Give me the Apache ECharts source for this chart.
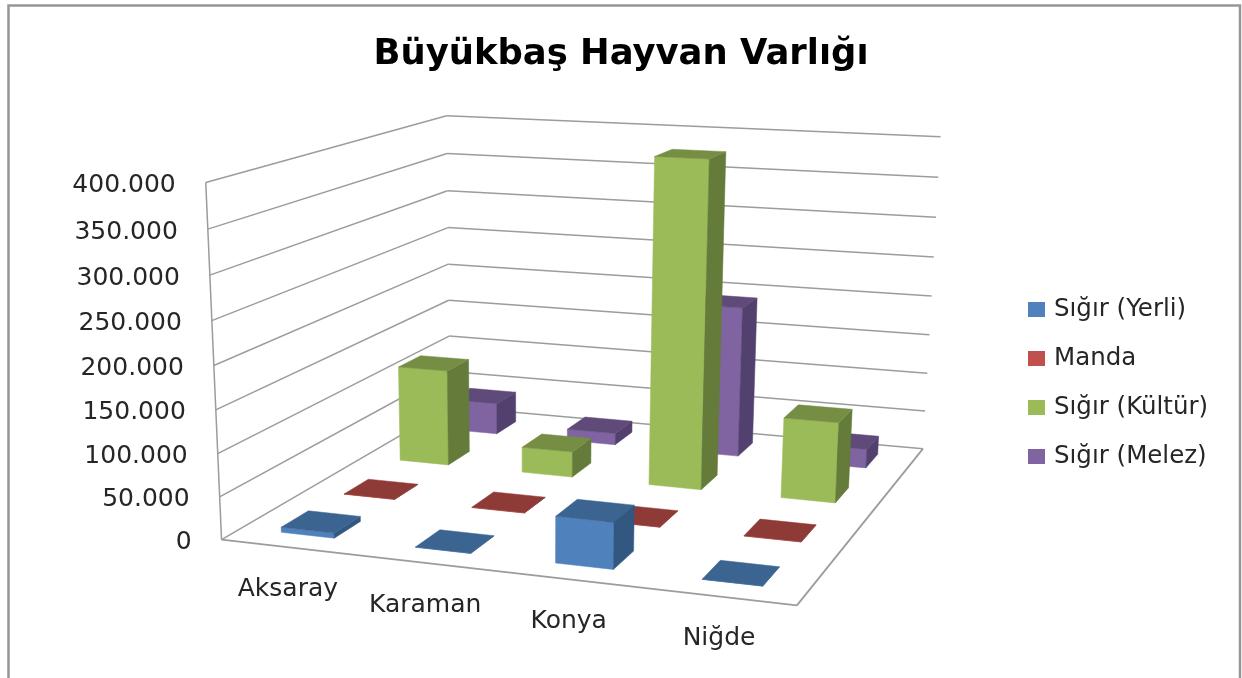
<!DOCTYPE html>
<html><head><meta charset="utf-8">
<style>html,body{margin:0;padding:0;background:#fff}#c{width:1242px;height:678px}</style>
<script src="https://cdn.jsdelivr.net/npm/echarts@6/dist/echarts.min.js"></script></head>
<body><div id="c"></div>
<script>
const categories = ['Aksaray','Karaman','Konya','Niğde'];
const yerli  = [6000, 300, 53000, 300];
const manda  = [300, 300, 300, 300];
const kultur = [121000, 32000, 398000, 98000];
const melez  = [41000, 15000, 192000, 24000];
const seriesNames = ['Sığır (Yerli)','Manda','Sığır (Kültür)','Sığır (Melez)'];
const valueTicks = [0,50000,100000,150000,200000,250000,300000,350000,400000];

const FONT = 'DejaVu Sans';
const GRID = {left:222, top:184, width:575, height:356};
const faces = [
  {front:'#4F81BD', top:'#3C6491', side:'#325780'},
  {front:'#C0504D', top:'#8E3A37', side:'#7A302E'},
  {front:'#9BBB59', top:'#768E44', side:'#657B3A'},
  {front:'#8064A2', top:'#5F4A79', side:'#52406E'}
];
const legendColors = faces.map(f=>f.front);

// Camera calibration: box corners of the 3D plot (x along categories, z into depth, y up).
const calib = [
  [0,0,0,222,539],[1,0,0,797,606],[0,1,0,449,408],[1,1,0,923,448],
  [0,0,1,204,183],[0,1,1,448,116],[1,1,1,940,137],
  [0,0,.5,215,365],[0,1,.5,448,263],[1,1,.5,932,296]
];
function solve(A,b){
  const n=b.length, M=A.map((r,i)=>r.concat(b[i]));
  for(let i=0;i<n;i++){
    let p=i; for(let k=i+1;k<n;k++) if(Math.abs(M[k][i])>Math.abs(M[p][i])) p=k;
    [M[i],M[p]]=[M[p],M[i]];
    for(let k=0;k<n;k++){ if(k===i) continue; const f=M[k][i]/M[i][i];
      for(let c=i;c<=n;c++) M[k][c]-=f*M[i][c]; }
  }
  return M.map((r,i)=>r[n]/r[i]);
}
const cam=(function(){
  const rows=[],rhs=[];
  calib.forEach(([x,z,y,u,v])=>{
    rows.push([x,z,y,1,0,0,0,0,-u*x,-u*z,-u*y]); rhs.push(u);
    rows.push([0,0,0,0,x,z,y,1,-v*x,-v*z,-v*y]); rhs.push(v);
  });
  const n=11, A=[],b=[];
  for(let i=0;i<n;i++){ A.push([]); let s=0;
    for(let j=0;j<n;j++){ let t=0; rows.forEach(r=>t+=r[i]*r[j]); A[i].push(t);}
    rows.forEach((r,k)=>s+=r[i]*rhs[k]); b.push(s);}
  return solve(A,b);
})();
function P(x,z,y){
  const w=cam[8]*x+cam[9]*z+cam[10]*y+1;
  return [(cam[0]*x+cam[1]*z+cam[2]*y+cam[3])/w,(cam[4]*x+cam[5]*z+cam[6]*y+cam[7])/w];
}

const BAR_W=0.1, BAR_D=0.105;
function poly(points,fill){return {type:'polygon',shape:{points},style:{fill,stroke:fill,lineWidth:0.5}};}
function line(a,b,w){return {type:'line',shape:{x1:a[0],y1:a[1],x2:b[0],y2:b[1]},style:{stroke:'#9c9c9c',lineWidth:w||1.5}};}

function frac(params,api,cat,val){
  const cs=params.coordSys, pt=api.coord([cat,val]);
  return [(pt[0]-cs.x)/cs.width,(cs.y+cs.height-pt[1])/cs.height];
}
function barItem(j){
  return function(params,api){
    const f=frac(params,api,api.value(0),api.value(1));
    const xc=f[0]+0.001;
    const x0=xc-BAR_W/2,x1=xc+BAR_W/2,zc=(j+.5)/4,z0=zc-BAR_D/2,z1=zc+BAR_D/2,h=f[1];
    const c=faces[j];
    return {type:'group',children:[
      poly([P(x0,z0,0),P(x1,z0,0),P(x1,z0,h),P(x0,z0,h)],c.front),
      poly([P(x1,z0,0),P(x1,z1,0),P(x1,z1,h),P(x1,z0,h)],c.side),
      poly([P(x0,z0,h),P(x1,z0,h),P(x1,z1,h),P(x0,z1,h)],c.top)
    ]};
  };
}
function wallItem(params,api){
  const ch=[];
  valueTicks.forEach(t=>{
    const h=frac(params,api,0,t)[1];
    ch.push(line(P(0,0,h),P(0,1,h)));
    ch.push(line(P(0,1,h),P(1,1,h)));
  });
  ch.push(line(P(0,0,0),P(0,0,1)));
  ch.push(line(P(0,0,0),P(1,0,0),1.8));
  ch.push(line(P(1,0,0),P(1,1,0),1.8));
  return {type:'group',children:ch};
}

// Labels follow the slanted walls: offsets come from the camera.
const yRich={}, xRich={};
valueTicks.forEach((t,i)=>{
  const p=P(0,0,t/400000), lin=GRID.top+GRID.height*(1-t/400000);
  const dy=p[1]+3-lin, right=p[0]-30;
  yRich['y'+i]={fontFamily:FONT,fontSize:25,color:'#262626',
    padding:[dy>0?2*dy:0,Math.max(0,GRID.left-8-right),dy<0?-2*dy:0,0]};
});
categories.forEach((c,i)=>{
  const f=(i+.5)/4, p=P(f,0,0), tx=p[0], ty=p[1]+42, cx=GRID.left+GRID.width*f, by=GRID.top+GRID.height;
  const dx=tx-cx;
  xRich['x'+i]={fontFamily:FONT,fontSize:25,color:'#262626',
    padding:[Math.max(0,ty-by-12-2)*1,dx<0?-2*dx:0,0,dx>0?2*dx:0]};
});

const barSeries=[yerli,manda,kultur,melez].map((vals,j)=>({
  name:seriesNames[j], type:'custom', coordinateSystem:'cartesian2d',
  renderItem:barItem(j), z:10-j, clip:false, silent:true,
  itemStyle:{color:legendColors[j]}, encode:{x:0,y:1},
  data:vals.map((v,i)=>[i,v])
}));

const chart=echarts.init(document.getElementById('c'),null,{renderer:'canvas'});
chart.setOption({
  animation:false, backgroundColor:'#fff',
  title:{text:'Büyükbaş Hayvan Varlığı',left:'center',top:37,padding:0,
    textStyle:{fontFamily:FONT,fontWeight:'bold',fontSize:35.4,color:'#000'}},
  grid:{left:GRID.left,top:GRID.top,width:GRID.width,height:GRID.height},
  xAxis:{type:'category',data:categories,axisLine:{show:false},axisTick:{show:false},splitLine:{show:false},
    axisLabel:{interval:0,margin:2,formatter:(v,i)=>'{x'+i+'|'+v+'}',rich:xRich}},
  yAxis:{type:'value',min:0,max:400000,interval:50000,axisLine:{show:false},axisTick:{show:false},splitLine:{show:false},
    axisLabel:{margin:8,formatter:(v)=>'{y'+valueTicks.indexOf(v)+'|'+String(v).replace(/\B(?=(\d{3})+$)/g,'.')+'}',rich:yRich}},
  legend:{orient:'vertical',left:1028,top:297,padding:0,icon:'rect',itemWidth:17,itemHeight:15,itemGap:24,
    data:seriesNames,selectedMode:false,textStyle:{fontFamily:FONT,fontSize:24.5,lineHeight:24,color:'#262626',padding:[0,0,0,4]}},
  graphic:[{type:'polyline',shape:{points:[[8.5,678],[8.5,5.5],[1240,5.5],[1240,678]]},
    style:{stroke:'#969696',lineWidth:2.5,fill:null},silent:true}],
  series:[{name:'walls',type:'custom',coordinateSystem:'cartesian2d',renderItem:wallItem,z:1,clip:false,silent:true,
    encode:{x:0,y:1},data:[[0,0]]}].concat(barSeries)
});
</script></body></html>
